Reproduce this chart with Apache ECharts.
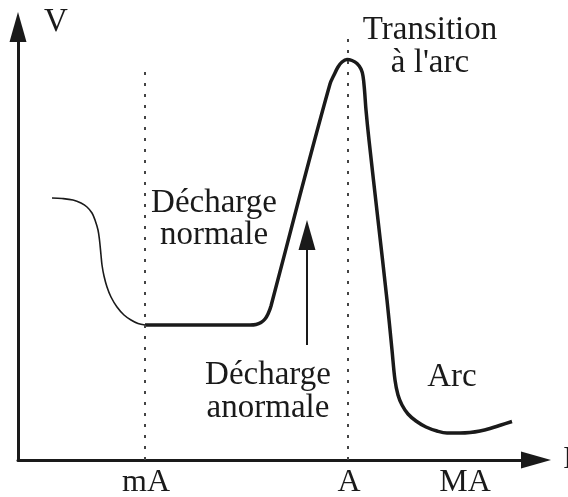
<!DOCTYPE html>
<html>
<head>
<meta charset="utf-8">
<script src="https://cdn.jsdelivr.net/npm/echarts@6/dist/echarts.min.js"></script>
<style>
html,body{margin:0;padding:0;background:#fff;}
#c{width:568px;height:497px;}
</style>
</head>
<body>
<div id="c"></div>
<script>
// Schematic V-I characteristic of a gas discharge (arbitrary units)
const xTickValues = [128, 331, 447];
const xTickLabels = ['mA', 'A', 'MA'];
const refLines = [127, 330];          // dotted verticals at mA and A
const refLineTops = [395, 427];
// thin part (before normal discharge)
const thinX = [34, 44, 55, 63, 69, 74, 77, 80, 81.5, 83, 84, 86, 89, 93, 99, 106, 113, 120, 127];
const thinY = [262, 261.5, 260, 257, 253, 247, 240, 230, 220, 205, 195, 184, 173, 163, 153, 145, 140, 136.5, 135];
// thick part (normal, abnormal, arc)
const thickX = [127, 182, 232, 238, 243, 247, 250, 253, 282, 312, 316, 320, 324, 329, 334, 339, 343, 345, 346.5, 348, 351, 360, 369, 374, 377, 380, 384, 390, 398, 408, 419, 429, 442, 452, 462, 472, 483, 494];
const thickY = [135, 135, 135, 135.5, 137.5, 141, 146, 154, 265, 376, 385, 393, 398, 400.5, 399.5, 396.5, 391, 384, 370, 350, 320, 240, 160, 110, 80, 65, 55, 46, 39, 33, 29, 27, 27, 27.5, 29, 31.5, 35, 38.5];
const arrowX = 289, arrowFrom = 115, arrowTo = 225;

const FONT = '"Liberation Serif", "Times New Roman", serif';
const INK = '#1a1a1a';

const chart = echarts.init(document.getElementById('c'), null, {renderer: 'canvas'});
const zip = (a, b) => a.map((v, i) => [v, b[i]]);

chart.setOption({
  animation: false,
  backgroundColor: '#fff',
  grid: {left: 18, right: 32, top: 27, bottom: 37, containLabel: false, outerBoundsMode: 'none'},
  xAxis: {
    type: 'value', min: 0, max: 518,
    name: 'I', nameLocation: 'end', nameGap: 27,
    nameTextStyle: {fontFamily: FONT, fontSize: 32, color: INK},
    axisLine: {show: true, symbol: ['none', 'triangle'], symbolSize: [17, 30], lineStyle: {color: INK, width: 3}},
    axisTick: {show: false},
    splitLine: {show: false},
    axisLabel: {
      customValues: xTickValues,
      formatter: v => xTickLabels[xTickValues.indexOf(v)] || '',
      fontFamily: FONT, fontSize: 32, color: INK, margin: 7, lineHeight: 32
    }
  },
  yAxis: {
    type: 'value', min: 0, max: 433,
    axisLine: {show: true, symbol: ['none', 'triangle'], symbolSize: [17, 30], lineStyle: {color: INK, width: 3}},
    axisTick: {show: false}, splitLine: {show: false}, axisLabel: {show: false}
  },
  series: [
    {
      type: 'line', name: 'thin', data: zip(thinX, thinY), showSymbol: false, smooth: 0.35,
      lineStyle: {color: INK, width: 1.6}, z: 3,
      markLine: {
        silent: true, symbol: ['none', 'none'],
        lineStyle: {color: '#444', width: 2, type: [3, 8]},
        label: {show: false},
        data: refLines.map((x, i) => [{coord: [x, 0]}, {coord: [x, refLineTops[i]]}])
      }
    },
    {
      type: 'line', name: 'thick', data: zip(thickX, thickY), showSymbol: false, smooth: 0.35,
      lineStyle: {color: INK, width: 3.5}, z: 4,
      markLine: {
        silent: true, symbol: ['none', 'triangle'], symbolSize: [17, 30],
        lineStyle: {color: INK, width: 2, type: 'solid'},
        label: {show: false},
        data: [[{coord: [arrowX, arrowFrom]}, {coord: [arrowX, arrowTo]}]]
      }
    }
  ],
  graphic: [
    {type: 'text', x: 214, y: 219, style: {text: 'Décharge\nnormale', font: '33px ' + FONT, fill: INK, align: 'center', verticalAlign: 'middle', lineHeight: 32}},
    {type: 'text', x: 268, y: 391.5, style: {text: 'Décharge\nanormale', font: '33px ' + FONT, fill: INK, align: 'center', verticalAlign: 'middle', lineHeight: 33}},
    {type: 'text', x: 430, y: 46.5, style: {text: 'Transition\nà l\'arc', font: '33px ' + FONT, fill: INK, align: 'center', verticalAlign: 'middle', lineHeight: 33}},
    {type: 'text', x: 452, y: 377, style: {text: 'Arc', font: '33px ' + FONT, fill: INK, align: 'center', verticalAlign: 'middle'}},
    {type: 'text', x: 56, y: 22, style: {text: 'V', font: '33px ' + FONT, fill: INK, align: 'center', verticalAlign: 'middle'}}
  ]
});
</script>
</body>
</html>
